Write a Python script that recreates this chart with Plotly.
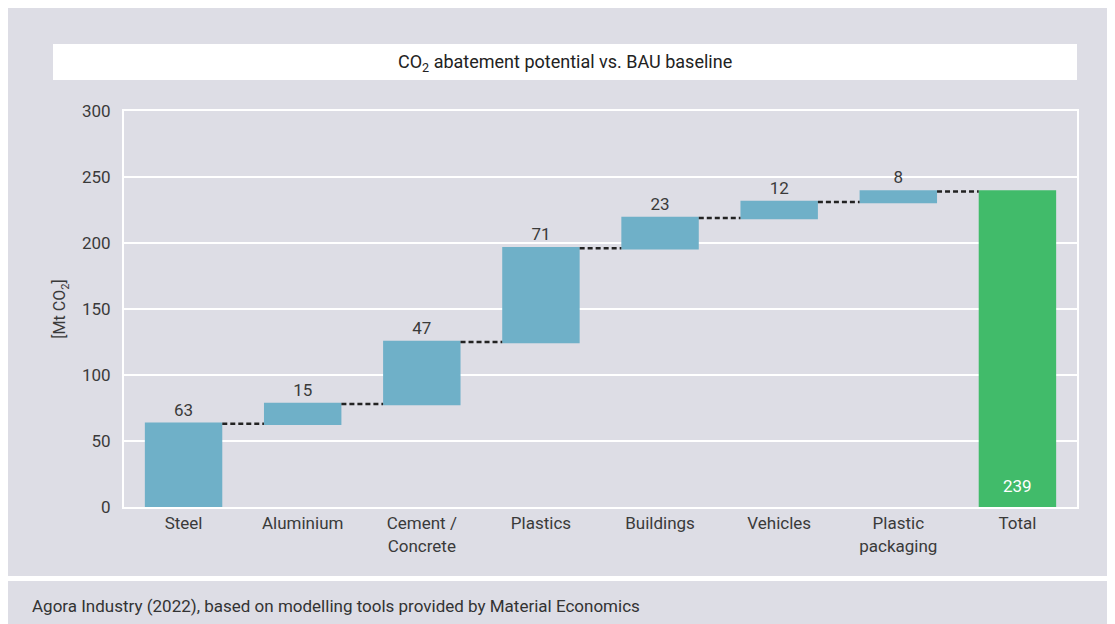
import plotly.graph_objects as go

categories = ["Steel", "Aluminium", "Cement /<br>Concrete", "Plastics", "Buildings",
              "Vehicles", "Plastic<br>packaging", "Total"]
values = [63, 15, 47, 71, 23, 12, 8, 239]
measures = ["relative"] * 7 + ["total"]
labels = ["63", "15", "47", "71", "23", "12", "8", "239"]
y_ticks = [0, 50, 100, 150, 200, 250, 300]

BG = "#dddde5"
BLUE = "#6fb0c8"
GREEN = "#41bb6a"
TXT = "#3a3a3a"
FONT = "Roboto"
FS = 17

# figure geometry (page body adds 8px offset)
W, H = 1107, 616
L, R, T, B = 116, 38, 103, 117
PW, PH = W - L - R, H - T - B


def px(fx):
    return (fx - L) / PW


def py(fy):
    return (H - B - fy) / PH


fig = go.Figure(go.Waterfall(
    x=categories,
    y=values,
    measure=measures,
    text=labels,
    textposition=["outside"] * 7 + ["none"],
    textfont=dict(family=FONT, size=FS, color=TXT),
    outsidetextfont=dict(family=FONT, size=FS, color=TXT),
    increasing=dict(marker=dict(color=BLUE, line=dict(width=0))),
    totals=dict(marker=dict(color=GREEN, line=dict(width=0))),
    connector=dict(mode="between", line=dict(color="#222222", width=2.5, dash="5px,3px")),
    width=0.65,
    cliponaxis=False,
))

fig.update_layout(
    width=W, height=H,
    paper_bgcolor=BG, plot_bgcolor=BG,
    margin=dict(l=L, r=R, t=T, b=B),
    showlegend=False,
    font=dict(family=FONT, size=FS, color=TXT),
    xaxis=dict(showgrid=False, showline=True, linecolor="white", linewidth=2, mirror=True,
               ticks="", tickfont=dict(family=FONT, size=FS, color=TXT)),
    yaxis=dict(range=[0, 300], tickvals=y_ticks, showgrid=True, gridcolor="white", gridwidth=2,
               showline=True, linecolor="white", linewidth=2, mirror=True, zeroline=False,
               ticks="", ticklabelstandoff=8,
               tickfont=dict(family=FONT, size=FS, color=TXT),
               title=dict(text="[Mt CO<sub>2</sub>]", standoff=12,
                          font=dict(family=FONT, size=FS - 1, color=TXT))),
    shapes=[
        # title box
        dict(type="rect", xref="paper", yref="paper", x0=px(45), x1=px(1069),
             y0=py(72), y1=py(36), fillcolor="white", line=dict(width=0), layer="below"),
        # footer separator
        dict(type="rect", xref="paper", yref="paper", x0=px(0), x1=px(W),
             y0=py(573), y1=py(568), fillcolor="white", line=dict(width=0)),
    ],
    annotations=[
        dict(text="CO<sub>2</sub> abatement potential vs. BAU baseline", xref="paper", yref="paper",
             x=px(557), y=py(55), xanchor="center", yanchor="middle", showarrow=False,
             font=dict(family=FONT, size=18, color="#222")),
        dict(text="Agora Industry (2022), based on modelling tools provided by Material Economics",
             xref="paper", yref="paper", x=px(22), y=py(598), xanchor="left",
             yanchor="middle", showarrow=False, font=dict(family=FONT, size=17, color="#333")),
        dict(text=labels[-1], x=categories[-1], y=0, xref="x", yref="y", yanchor="bottom",
             yshift=9, showarrow=False, font=dict(family=FONT, size=FS, color="white")),
    ],
)

fig.write_html("out.html")
